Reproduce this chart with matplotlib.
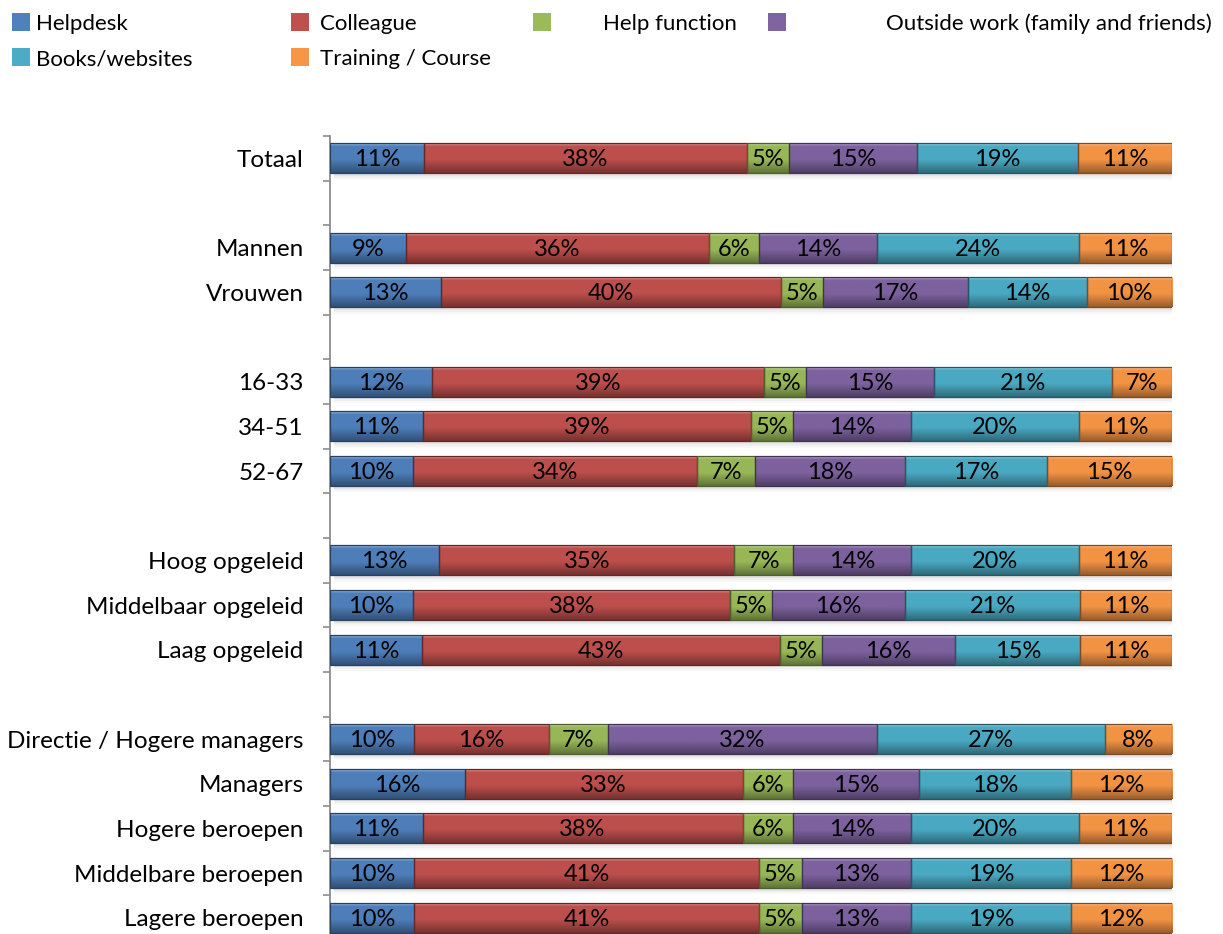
import numpy as np
import matplotlib
matplotlib.use("Agg")
import matplotlib.pyplot as plt
from matplotlib.patches import Rectangle, Polygon
from matplotlib.colors import to_rgb

series = ["Helpdesk", "Colleague", "Help function", "Outside work (family and friends)",
          "Books/websites", "Training / Course"]
colors = ["#4F81BD", "#C0504D", "#9BBB59", "#8064A2", "#4BACC6", "#F79646"]

groups = [
    ["Totaal"],
    ["Mannen", "Vrouwen"],
    ["16-33", "34-51", "52-67"],
    ["Hoog opgeleid", "Middelbaar opgeleid", "Laag opgeleid"],
    ["Directie / Hogere managers", "Managers", "Hogere beroepen",
     "Middelbare beroepen", "Lagere beroepen"],
]

values = {
    "Totaal":                     [11, 38, 5, 15, 19, 11],
    "Mannen":                     [9, 36, 6, 14, 24, 11],
    "Vrouwen":                    [13, 40, 5, 17, 14, 10],
    "16-33":                      [12, 39, 5, 15, 21, 7],
    "34-51":                      [11, 39, 5, 14, 20, 11],
    "52-67":                      [10, 34, 7, 18, 17, 15],
    "Hoog opgeleid":              [13, 35, 7, 14, 20, 11],
    "Middelbaar opgeleid":        [10, 38, 5, 16, 21, 11],
    "Laag opgeleid":              [11, 43, 5, 16, 15, 11],
    "Directie / Hogere managers": [10, 16, 7, 32, 27, 8],
    "Managers":                   [16, 33, 6, 15, 18, 12],
    "Hogere beroepen":            [11, 38, 6, 14, 20, 11],
    "Middelbare beroepen":        [10, 41, 5, 13, 19, 12],
    "Lagere beroepen":            [10, 41, 5, 13, 19, 12],
}

FONT = "Lato"
plt.rcParams["font.family"] = [FONT, "DejaVu Sans"]

W, H = 1223, 934
fig = plt.figure(figsize=(W / 100, H / 100), dpi=100)
ax = fig.add_axes([330 / W, 1 - 940 / H, (1172 - 330) / W, (940 - 136) / H])

# positions with a blank slot between groups
cats, pos = [], []
slot = 0
for gi, g in enumerate(groups):
    if gi > 0:
        slot += 1
    for c in g:
        cats.append(c)
        pos.append(slot)
        slot += 1
nslots = slot

bar_h = 0.67


def shade(c, f):
    r = np.array(to_rgb(c))
    if f >= 0:
        return r + (1 - r) * f
    return r * (1 + f)


def gradient(c):
    t = np.linspace(0, 1, 64)
    top = shade(c, 0.45)
    mid = shade(c, -0.02)
    bot = shade(c, -0.38)
    out = np.zeros((64, 1, 3))
    for i, tt in enumerate(t):
        if tt < 0.10:
            col = top + (mid - top) * (tt / 0.10)
        elif tt < 0.55:
            col = mid
        else:
            col = mid + (bot - mid) * ((tt - 0.55) / 0.45)
        out[i, 0] = np.clip(col, 0, 1)
    return out


# soft shadow under each bar
for y in pos:
    for k, a in zip([0.06, 0.10, 0.14], [0.10, 0.07, 0.05]):
        ax.add_patch(Rectangle((0.5, y - bar_h / 2 + k), 100.3, bar_h,
                               facecolor="#808080", alpha=a, edgecolor="none", zorder=1))

for y, c in zip(pos, cats):
    v = np.array(values[c], dtype=float)
    w = v / v.sum() * 100
    left = np.concatenate([[0], np.cumsum(w)[:-1]])
    for j in range(len(series)):
        l, r = left[j], left[j] + w[j]
        ax.imshow(gradient(colors[j]), extent=(l, r, y + bar_h / 2, y - bar_h / 2),
                  origin="upper", aspect="auto", interpolation="bilinear", zorder=2)
        ax.add_patch(Rectangle((l, y - bar_h / 2), w[j], bar_h, facecolor="none",
                               edgecolor=shade(colors[j], -0.5), linewidth=0.9, zorder=3))
        ax.text(l + w[j] / 2, y + 0.03, f"{int(v[j])}%", ha="center", va="center",
                fontsize=17, color="black", zorder=4)

ax.set_xlim(0, 100)
ax.set_ylim(nslots - 0.5, -0.5)
ax.set_yticks(pos)
ax.set_yticklabels(cats, fontsize=17.5)
ax.set_yticks(np.arange(-0.5, nslots, 1.0), minor=True)
ax.tick_params(axis="y", which="major", length=0, pad=19)
ax.tick_params(axis="y", which="minor", length=5, width=1.2, color="#8c8c8c", direction="out")
ax.xaxis.set_visible(False)
for s in ["top", "right", "bottom"]:
    ax.spines[s].set_visible(False)
ax.spines["left"].set_color("#8c8c8c")
ax.spines["left"].set_linewidth(1.3)
ax.set_facecolor("none")

# legend (manual, Excel-like layout)
leg = [
    (0, 12, 36, 22), (1, 291, 320, 22), (2, 533, 603, 22), (3, 768, 886, 22),
    (4, 12, 36, 57), (5, 291, 320, 57),
]
for idx, mx, tx, cy in leg:
    fig.add_artist(Rectangle((mx / W, 1 - (cy + 9) / H), 18 / W, 18 / H,
                             transform=fig.transFigure, facecolor=colors[idx],
                             edgecolor="none"))
    fig.text(tx / W, 1 - (cy + 2) / H, series[idx], ha="left", va="center", fontsize=16)

fig.savefig("out.png", dpi=100)
